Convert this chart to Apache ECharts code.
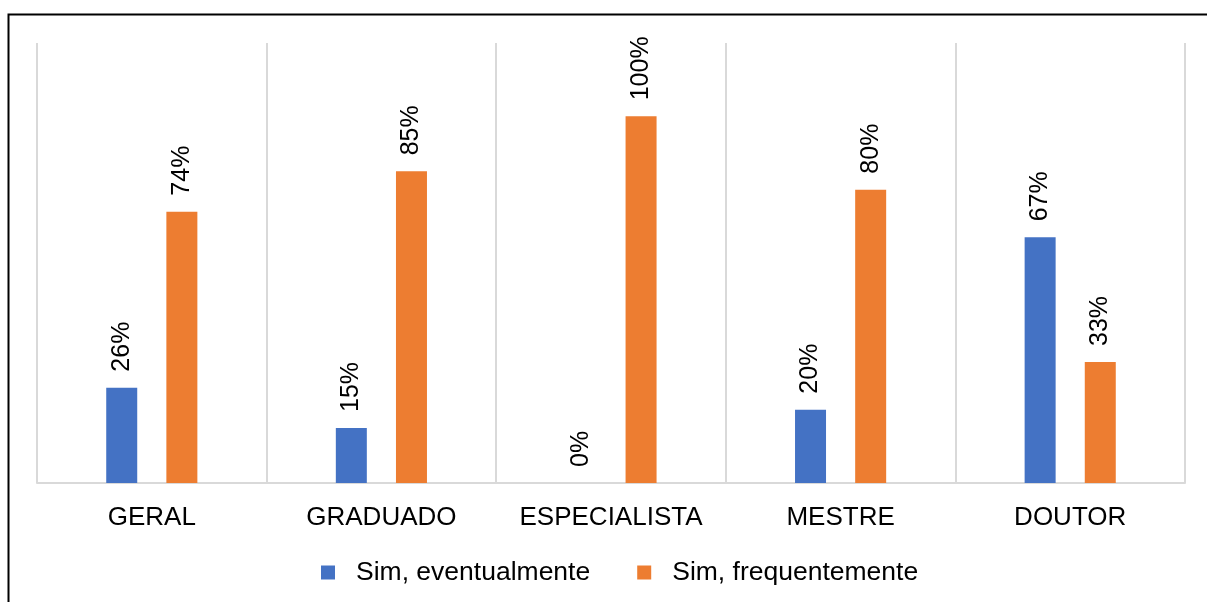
<!DOCTYPE html>
<html>
<head>
<meta charset="utf-8">
<script src="https://cdn.jsdelivr.net/npm/echarts@6/dist/echarts.min.js"></script>
<style>
	html, body { margin: 0; padding: 0; background: #fff; }
	#chart { width: 1207px; height: 602px; }
</style>
</head>
<body>
<div id="chart"></div>
<script>
	var categories = ['GERAL', 'GRADUADO', 'ESPECIALISTA', 'MESTRE', 'DOUTOR'];
	var seriesNames = ['Sim, eventualmente', 'Sim, frequentemente'];
	var eventualmente = [26, 15, 0, 20, 67];
	var frequentemente = [74, 85, 100, 80, 33];
	var colors = ['#4472C4', '#ED7D31'];

	var myChart = echarts.init(document.getElementById('chart'));

	function barLabel() {
		return {
			show: true,
			position: 'top',
			rotate: 90,
			align: 'left',
			verticalAlign: 'middle',
			distance: 16,
			formatter: '{c}%',
			color: '#000',
			fontSize: 25,
			fontFamily: 'Liberation Sans'
		};
	}

	var option = {
		animation: false,
		textStyle: { fontFamily: 'Liberation Sans' },
		graphic: [{
			type: 'rect',
			shape: { x: 8.5, y: 14.5, width: 1210, height: 600 },
			style: { fill: 'none', stroke: '#000', lineWidth: 2 },
			silent: true
		}],
		grid: { left: 37, right: 22, top: 43, bottom: 119 },
		legend: {
			top: 554,
			left: 316,
			itemWidth: 14,
			itemHeight: 14,
			itemGap: 47,
			icon: 'rect',
			textStyle: { fontSize: 26.5, color: '#000', padding: [0, 0, 0, 16] },
			data: seriesNames
		},
		xAxis: {
			type: 'category',
			data: categories,
			axisLine: { lineStyle: { color: '#d9d9d9', width: 2 } },
			axisTick: { show: false },
			splitLine: { show: true, interval: 0, lineStyle: { color: '#d9d9d9', width: 2 } },
			axisLabel: { color: '#000', fontSize: 26, margin: 22, interval: 0 }
		},
		yAxis: {
			type: 'value',
			min: 0,
			max: 120,
			show: false
		},
		series: [{
			name: seriesNames[0],
			type: 'bar',
			data: eventualmente,
			barWidth: 31,
			barGap: '94%',
			itemStyle: { color: colors[0] },
			label: barLabel()
		}, {
			name: seriesNames[1],
			type: 'bar',
			data: frequentemente,
			barWidth: 31,
			barGap: '94%',
			itemStyle: { color: colors[1] },
			label: barLabel()
		}]
	};
	myChart.setOption(option);
</script>
</body>
</html>
